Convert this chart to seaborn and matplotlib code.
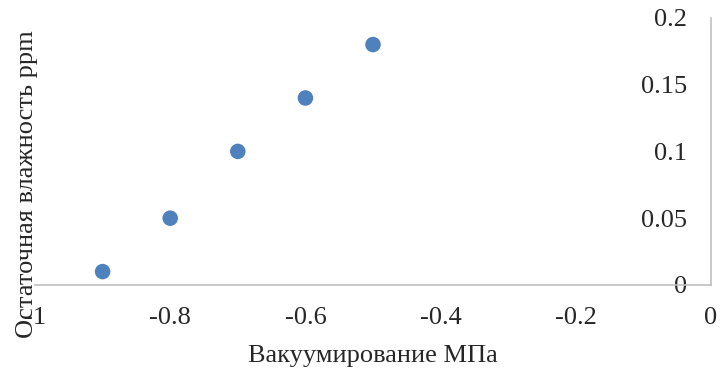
import matplotlib
matplotlib.use("Agg")
import matplotlib.pyplot as plt
import seaborn as sns
import pandas as pd

vacuum = [-0.9, -0.8, -0.7, -0.6, -0.5]
moisture = [0.01, 0.05, 0.10, 0.14, 0.18]
x_ticks = [-1, -0.8, -0.6, -0.4, -0.2, 0]
x_tick_labels = ["-1", "-0.8", "-0.6", "-0.4", "-0.2", "0"]
y_ticks = [0, 0.05, 0.1, 0.15, 0.2]
y_tick_labels = ["0", "0.05", "0.1", "0.15", "0.2"]

sns.set_style("white")
plt.rcParams['font.family'] = ['Liberation Serif', 'DejaVu Serif']

df = pd.DataFrame({"x": vacuum, "y": moisture})

fig = plt.figure(figsize=(7.23, 3.72), dpi=100)
ax = fig.add_axes([0.0484, 0.234, 0.935, 0.718])
sns.scatterplot(data=df, x="x", y="y", ax=ax, color="#4f81bd", s=125,
                edgecolor="none", zorder=3)

ax.set_xlim(-1, 0)
ax.set_ylim(0, 0.2)
ax.set_xticks(x_ticks)
ax.set_xticklabels(x_tick_labels)
ax.set_yticks(y_ticks)
ax.set_yticklabels(y_tick_labels)

for s in ["top", "right"]:
    ax.spines[s].set_visible(False)
ax.spines["left"].set_position(("data", 0))
ax.spines["left"].set_color("#bfbfbf")
ax.spines["bottom"].set_color("#bfbfbf")
ax.spines["left"].set_linewidth(1.2)
ax.spines["bottom"].set_linewidth(1.2)

ax.tick_params(axis="x", length=0, pad=16, labelsize=19)
ax.tick_params(axis="y", length=0, pad=17, labelsize=19)
for lbl in ax.get_yticklabels():
    lbl.set_va("center_baseline")

ax.set_xlabel("Вакуумирование МПа", fontsize=19)
ax.set_ylabel("Остаточная влажность ppm", fontsize=19)
ax.xaxis.set_label_coords(0.5, -0.225)
ax.yaxis.set_label_coords(0.004, 0.378)

fig.savefig("out.png", dpi=100)
